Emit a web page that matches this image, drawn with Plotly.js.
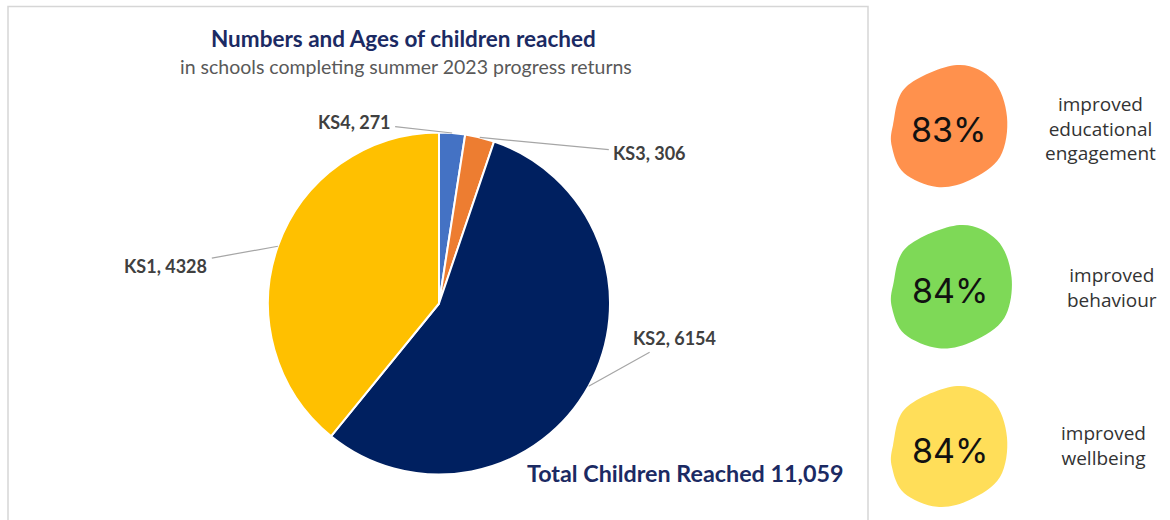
<!DOCTYPE html>
<html>
<head>
<meta charset="utf-8">
<script src="https://cdn.plot.ly/plotly-3.0.1.min.js"></script>
<style>html,body{margin:0;padding:0;background:#fff;}#chart{width:1170px;height:520px;}</style>
</head>
<body>
<div id="chart"></div>
<script>
// ---- data ----
const categories = ["KS4", "KS3", "KS2", "KS1"];
const childCounts = [271, 306, 6154, 4328];
const sliceColors = ["#4472C4", "#ED7D31", "#002060", "#FFC000"];
const chartTitle = "Numbers and Ages of children reached";
const chartSubtitle = "in schools completing summer 2023 progress returns";
const totalLabel = "Total Children Reached";

const metricPercents = [83, 84, 84];
const metricLabels = [["improved", "educational", "engagement"], ["improved", "behaviour"], ["improved", "wellbeing"]];
const metricColors = ["#FF914D", "#7ED957", "#FFDE59"];

// ---- layout helpers (pixel -> paper) ----
const W = 1170, H = 520;
const px = x => x / W;
const py = y => 1 - y / H;

// pie geometry
const pieCx = 439, pieCy = 303.5, pieR = 171;
const domainX = [px(pieCx - pieR), px(pieCx + pieR)];
const domainY = [py(pieCy + pieR), py(pieCy - pieR)];

// label offsets (pixels, from slice edge point to label centre)
const labelOffsets = [[-98, -11], [170, 16], [86, -48], [-112, 20]];

const total = childCounts.reduce((a, b) => a + b, 0);
const annotations = [];
const shapes = [];

function note(x, y, text, font, extra) {
  return Object.assign({
    x: px(x), y: py(y), xref: "paper", yref: "paper", showarrow: false,
    xanchor: "center", yanchor: "middle", text: text, font: font
  }, extra || {});
}

// slice labels with leader lines
let cum = 0;
childCounts.forEach((v, i) => {
  const mid = (cum + v / 2) / total * 2 * Math.PI;
  cum += v;
  const ex = pieCx + pieR * Math.sin(mid);
  const ey = pieCy - pieR * Math.cos(mid);
  const [ox, oy] = labelOffsets[i];
  annotations.push({
    x: px(ex), y: py(ey), xref: "paper", yref: "paper",
    ax: ox, ay: oy, axref: "pixel", ayref: "pixel",
    xanchor: "center", yanchor: "middle",
    text: "<b>" + categories[i] + ", " + v + "</b>",
    showarrow: true, arrowhead: 0, arrowwidth: 1.2, arrowcolor: "#a6a6a6",
    standoff: 0, startstandoff: 3,
    font: {family: "Lato, 'Open Sans', sans-serif", size: 18, color: "#404040"}
  });
});

// titles
annotations.push(note(403, 39, "<b>" + chartTitle + "</b>", {family: "Lato, sans-serif", size: 22.5, color: "#1B2A63"}, {borderpad: 0}));
annotations.push(note(406, 66, chartSubtitle, {family: "Lato, sans-serif", size: 19.5, color: "#595959"}, {borderpad: 0}));
annotations.push(note(685, 473, "<b>" + totalLabel + " " + total.toLocaleString("en-GB") + "</b>",
  {family: "Lato, sans-serif", size: 23.3, color: "#1B2A63"}));

// chart box border
shapes.push({
  type: "rect", xref: "paper", yref: "paper",
  x0: px(8), x1: px(868), y0: py(540), y1: py(6.5),
  line: {color: "#d6d6d6", width: 1.5}, fillcolor: "rgba(0,0,0,0)"
});

// blobs
const blobPts = [[1,60],[14,22],[65,0],[101,15],[115,52],[108,92],[78,115],[45,122],[12,108],[0,82]];
function blobPath(ox, oy, sx, sy) {
  const p = blobPts.map(([a, b]) => [ox + a * sx, oy + b * sy]);
  const n = p.length;
  let d = "M " + px(p[0][0]) + "," + py(p[0][1]);
  for (let i = 0; i < n; i++) {
    const p0 = p[(i - 1 + n) % n], p1 = p[i], p2 = p[(i + 1) % n], p3 = p[(i + 2) % n];
    const c1 = [p1[0] + (p2[0] - p0[0]) / 6, p1[1] + (p2[1] - p0[1]) / 6];
    const c2 = [p2[0] - (p3[0] - p1[0]) / 6, p2[1] - (p3[1] - p1[1]) / 6];
    d += " C " + px(c1[0]) + "," + py(c1[1]) + " " + px(c2[0]) + "," + py(c2[1]) + " " + px(p2[0]) + "," + py(p2[1]);
  }
  return d + " Z";
}
const blobOrigins = [[892, 65, 1, 1], [892, 225, 1.04, 1.01], [892, 386, 1, 0.99]];
const pctCentres = [[948, 129], [950, 290], [950, 450]];
const textCentres = [[1100, 128], [1112, 287], [1103, 445]];
metricPercents.forEach((v, i) => {
  const [ox, oy, sx, sy] = blobOrigins[i];
  shapes.push({
    type: "path", xref: "paper", yref: "paper",
    path: blobPath(ox, oy, sx, sy), fillcolor: metricColors[i], line: {width: 0}
  });
  annotations.push(note(pctCentres[i][0], pctCentres[i][1], v + "%",
    {family: "Inter, 'Open Sans', sans-serif", size: 34, color: "#111111"}));
  annotations.push(note(textCentres[i][0], textCentres[i][1], metricLabels[i].join("<br>"),
    {family: "'Open Sans', sans-serif", size: 19, color: "#333333"}, {align: "center"}));
});

const trace = {
  type: "pie",
  labels: categories,
  values: childCounts,
  marker: {colors: sliceColors, line: {color: "#ffffff", width: 2}},
  sort: false,
  direction: "clockwise",
  rotation: 0,
  textinfo: "none",
  hoverinfo: "label+value",
  domain: {x: domainX, y: domainY},
  showlegend: false
};

const layout = {
  width: W, height: H,
  margin: {l: 0, r: 0, t: 0, b: 0},
  paper_bgcolor: "#ffffff",
  showlegend: false,
  annotations: annotations,
  shapes: shapes
};

Plotly.newPlot("chart", [trace], layout, {displayModeBar: false, staticPlot: true});
</script>
</body>
</html>
